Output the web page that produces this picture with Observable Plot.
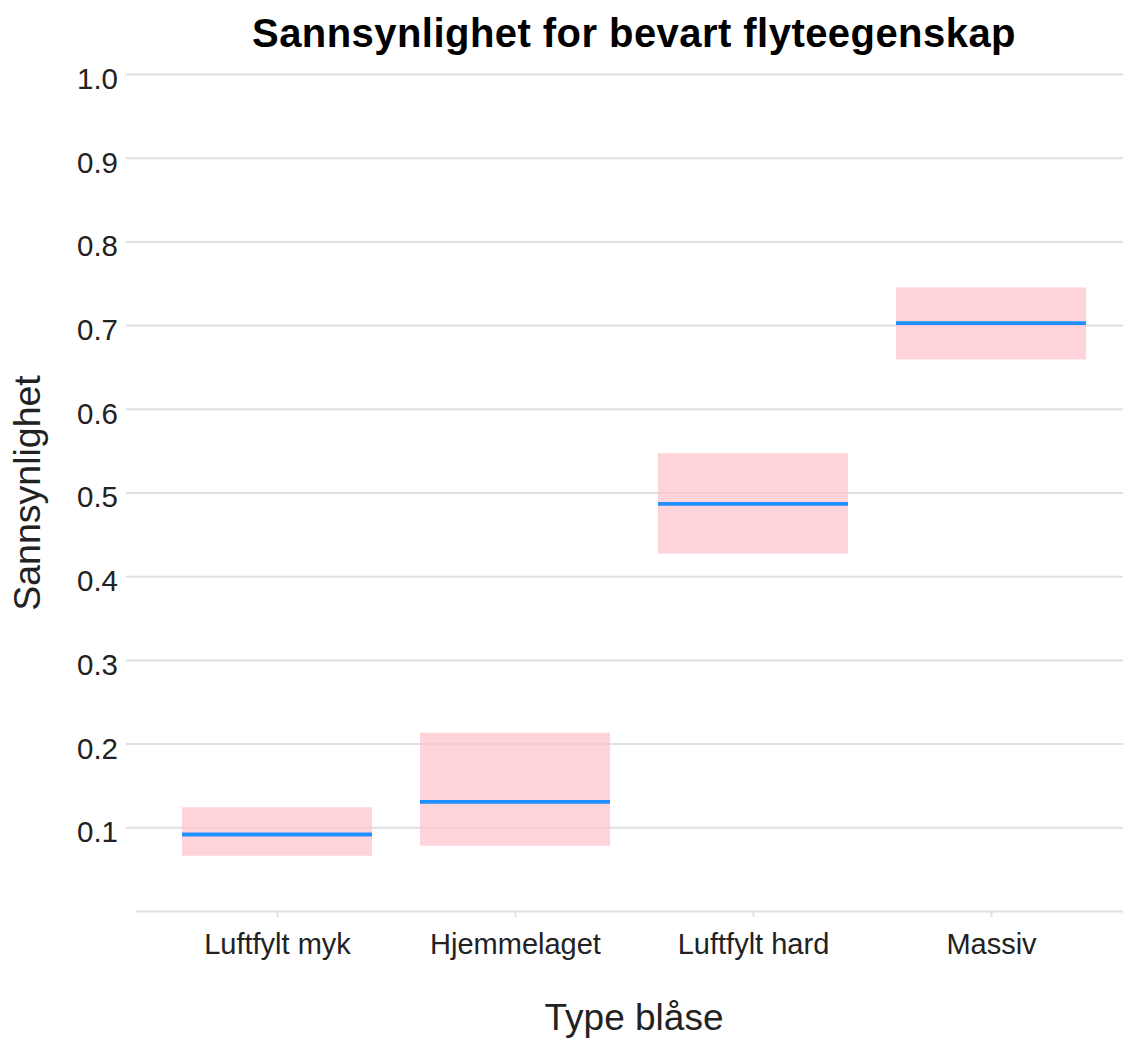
<!DOCTYPE html>
<html>
<head>
<meta charset="utf-8">
<script src="https://cdn.jsdelivr.net/npm/d3@7"></script>
<script src="https://cdn.jsdelivr.net/npm/@observablehq/plot@0.6"></script>
<style>
  html, body { margin: 0; padding: 0; background: #fff; }
  body { width: 1123px; height: 1038px; overflow: hidden; font-family: "Liberation Sans", Arial, sans-serif; }
  #title { height: 62px; line-height: 66px; padding-left: 145px; text-align: center; font-size: 40px; font-weight: bold; letter-spacing: 0.45px; color: #000; white-space: nowrap; }
  svg { overflow: visible; }
</style>
</head>
<body>
<div id="title">Sannsynlighet for bevart flyteegenskap</div>
<div id="chart"></div>
<script>
const categories = ["Luftfylt myk", "Hjemmelaget", "Luftfylt hard", "Massiv"];
const estimate = [0.092, 0.131, 0.487, 0.703];
const lower = [0.066, 0.078, 0.427, 0.659];
const upper = [0.124, 0.213, 0.547, 0.745];
const yTicks = [0.1, 0.2, 0.3, 0.4, 0.5, 0.6, 0.7, 0.8, 0.9, 1.0];
const yLabel = "Sannsynlighet";
const xLabel = "Type blåse";

const data = categories.map((c, i) => ({cat: c, est: estimate[i], lo: lower[i], hi: upper[i]}));

const gridColor = "#e0e0e0";
const textColor = "#222222";

const chart = Plot.plot({
  width: 1123,
  height: 976,
  marginLeft: 126,
  marginRight: 0,
  marginTop: 12,
  marginBottom: 127,
  style: {fontFamily: "'Liberation Sans', Arial, sans-serif", background: "#fff", color: textColor, overflow: "visible"},
  x: {type: "band", domain: categories, range: [157.5, 1111], paddingInner: 0.2, paddingOuter: 0.1},
  y: {domain: [0, 1]},
  marks: [
    Plot.gridY(yTicks, {stroke: gridColor, strokeOpacity: 1, strokeWidth: 2}),
    Plot.ruleY([0], {stroke: gridColor, strokeWidth: 2, insetLeft: 10}),
    Plot.barY(data, {x: "cat", y1: "lo", y2: "hi", fill: "pink", fillOpacity: 0.7}),
    Plot.tickY(data, {x: "cat", y: "est", stroke: "#1E90FF", strokeWidth: 3.8}),
    Plot.axisY(yTicks, {tickSize: 0, tickPadding: 8.5, tickFormat: d3.format(".1f"), fontSize: 29.5, fill: textColor, label: null, dy: 5}),
    Plot.axisX({tickSize: 6, tickPadding: 16.4, stroke: gridColor, strokeWidth: 2, strokeOpacity: 1, fontSize: 29, fill: textColor, label: null}),
    Plot.text([yLabel], {text: d => d, frameAnchor: "left", rotate: -90, dx: -87, dy: 0, lineAnchor: "bottom", textAnchor: "middle", fontSize: 37.5, fill: textColor}),
    Plot.text([xLabel], {text: d => d, frameAnchor: "bottom", dx: 9, dy: 118, lineAnchor: "bottom", textAnchor: "middle", fontSize: 37, fill: textColor})
  ]
});
document.getElementById("chart").appendChild(chart);
</script>
</body>
</html>
